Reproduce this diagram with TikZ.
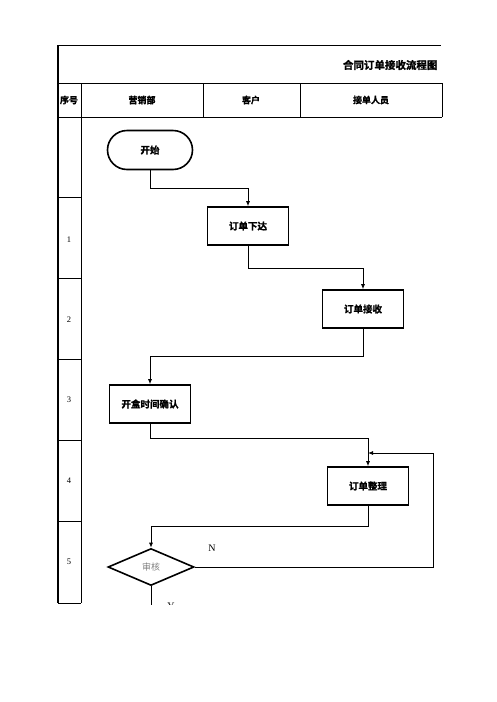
\documentclass[tikz,border=0pt]{standalone}
\usepackage{fontspec}
\setmainfont{Liberation Serif}
\newfontfamily\cjk{Noto Sans CJK SC}
\newfontfamily\cjkbold{Noto Sans CJK SC Bold}[FakeBold=1.5]
\usetikzlibrary{shapes.geometric, shapes.misc, arrows.meta}

\tikzset{
    grid/.style={line width=0.8pt},
    stepbox/.style={draw, line width=1.6pt, minimum width=81pt, minimum height=38pt,
        inner sep=0pt, font=\cjkbold\fontsize{9.5}{10}\selectfont},
    startbox/.style={stepbox, rounded rectangle, minimum width=85pt, minimum height=39pt},
    checkbox/.style={draw, diamond, line width=1.6pt, aspect=2.3, inner sep=0pt,
        minimum width=86pt, minimum height=37pt, text=gray,
        font=\cjk\fontsize{9}{10}\selectfont},
    flow/.style={line width=0.8pt, -{Latex[length=5pt,width=4pt]}},
    head/.style={font=\cjkbold\fontsize{9}{10}\selectfont},
    rownum/.style={font=\fontsize{8.5}{9}\selectfont},
}

\begin{document}
\begin{tikzpicture}[x=1pt, y=-1pt]
    \useasboundingbox (0, 0) rectangle (496, 702);

    \begin{scope}
        \clip (0, 0) rectangle (496, 604);

        % table frame
        \draw[line width=1.6pt] (58, 45) -- (58, 603);
        \draw[grid] (58, 45) -- (441, 45);
        \draw[grid] (58, 83) -- (442, 83);
        \draw[grid] (81, 83) -- (81, 603);
        \foreach \xx in {203, 300, 442}
            \draw[grid] (\xx, 83) -- (\xx, 117);
        \draw[grid] (58, 117) -- (442, 117);
        \foreach \yy in {197, 278, 359, 440, 521, 603}
            \draw[grid] (58, \yy) -- (81, \yy);

        \node[anchor=east, font=\cjkbold\fontsize{10.5}{11}\selectfont] (title) at (441, 65) {合同订单接收流程图};
        \node[head] (hno) at (69, 100) {序号};
        \node[head] (hsales) at (142, 100) {营销部};
        \node[head] (hclient) at (251, 100) {客户};
        \node[head] (hstaff) at (371, 100) {接单人员};

        \node[rownum] (r1) at (69, 240) {1};
        \node[rownum] (r2) at (69, 320) {2};
        \node[rownum] (r3) at (69, 400) {3};
        \node[rownum] (r4) at (69, 481) {4};
        \node[rownum] (r5) at (69, 562) {5};

        % flow steps
        \node[startbox] (start) at (150, 150) {开始};
        \node[stepbox] (issue) at (248, 226) {订单下达};
        \node[stepbox] (receive) at (363, 309) {订单接收};
        \node[stepbox] (confirm) at (150, 404) {开盒时间确认};
        \node[stepbox] (tidy) at (368, 486) {订单整理};
        \node[checkbox] (check) at (151, 567) {审核};

        \coordinate (loop) at (433, 453);
        \coordinate (yend) at (151, 610);

        \draw[flow] (start.south) -- ++(0, 18) -| (issue.north);
        \draw[flow] (issue.south) -- ++(0, 23) -| (receive.north);
        \draw[flow] (receive.south) -- ++(0, 28) -| (confirm.north);
        \draw[flow] (confirm.south) -- ++(0, 15) -| (tidy.north);
        \draw[flow] (tidy.south) -- ++(0, 21) -| (check.north);
        \draw[flow] (check.east) -| (loop) -- (tidy.north |- loop);
        \draw[line width=0.8pt] (check.south) -- (yend);

        \node (no) at (212, 548) {N};
        \node (yes) at (171, 606) {Y};
    \end{scope}
\end{tikzpicture}
\end{document}
